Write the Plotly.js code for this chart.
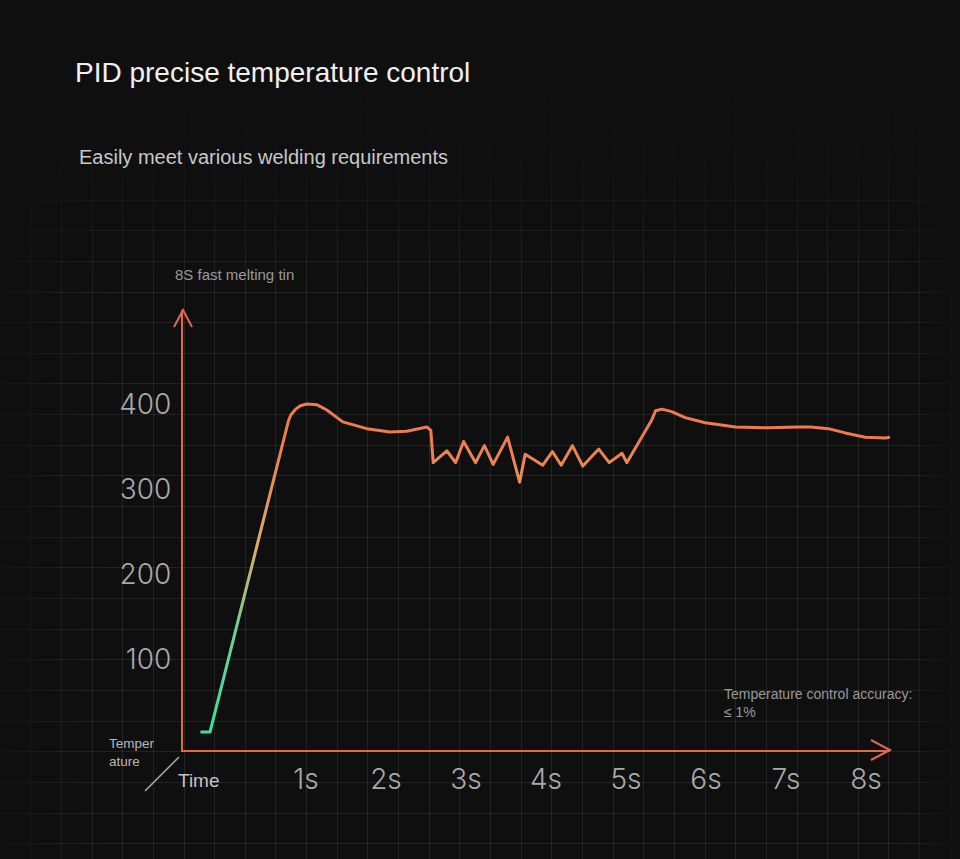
<!DOCTYPE html>
<html>
<head>
<meta charset="utf-8">
<script src="https://cdn.plot.ly/plotly-3.0.1.min.js"></script>
<style>
  html, body { margin: 0; padding: 0; background: #0f0f0f; }
  #chart { width: 960px; height: 859px; }
</style>
</head>
<body>
<div id="chart"></div>
<script>
// temperature curve (seconds, degrees)
const timeS = [-0.32, -0.2, 0.78, 0.81, 0.87, 0.93, 1.01, 1.14, 1.26, 1.46, 1.76, 2.05, 2.26, 2.51, 2.56, 2.59,
  2.76, 2.87, 2.97, 3.12, 3.23, 3.34, 3.52, 3.67, 3.74, 3.96, 4.08, 4.19, 4.33, 4.46, 4.66, 4.79, 4.95, 5.01,
  5.32, 5.37, 5.45, 5.57, 5.74, 5.99, 6.37, 6.78, 7.15, 7.31, 7.53, 7.74, 7.99, 8.24, 8.3];
const tempC = [14, 14, 380, 387, 394, 398, 400, 399, 393, 379, 371, 367, 368, 373, 369, 331,
  345, 331, 356, 331, 351, 329, 361, 308, 341, 328, 344, 328, 351, 327, 347, 331, 342, 331,
  381, 392, 394, 391, 384, 378, 373, 372, 373, 373, 371, 366, 361, 360, 361];

const tempTicks = [100, 200, 300, 400];
const timeTicks = [1, 2, 3, 4, 5, 6, 7, 8];
const timeLabels = timeTicks.map(s => s + 's');

const titleText = 'PID precise temperature control';
const subtitleText = 'Easily meet various welding requirements';
const yNote = '8S fast melting tin';
const cornerY = 'Temper<br>ature';
const cornerX = 'Time';
const accuracyNote = 'Temperature control accuracy:<br>≤ 1%';

const axisColor = '#e3674a';
const lineColor = '#ee7b4f';
const bg = '#0f0f0f';
const tickFont = {family: 'Inter, Lato, sans-serif', size: 28, color: '#a9a9a9', weight: 300};
const sans = 'Liberation Sans, Arial, sans-serif';

// fade the background grid towards the edges
const fadeSvg = "<svg xmlns='http://www.w3.org/2000/svg' width='960' height='859'>" +
  "<defs>" +
  "<linearGradient id='t' x1='0' y1='0' x2='0' y2='1'><stop offset='0' stop-color='" + bg + "' stop-opacity='1'/><stop offset='0.5' stop-color='" + bg + "' stop-opacity='0.8'/><stop offset='1' stop-color='" + bg + "' stop-opacity='0'/></linearGradient>" +
  "<linearGradient id='r' x1='0' y1='0' x2='1' y2='0'><stop offset='0' stop-color='" + bg + "' stop-opacity='0'/><stop offset='1' stop-color='" + bg + "' stop-opacity='0.85'/></linearGradient>" +
  "<linearGradient id='l' x1='0' y1='0' x2='1' y2='0'><stop offset='0' stop-color='" + bg + "' stop-opacity='0.7'/><stop offset='1' stop-color='" + bg + "' stop-opacity='0'/></linearGradient>" +
  "</defs>" +
  "<rect x='0' y='0' width='960' height='300' fill='url(#t)'/>" +
  "<rect x='895' y='0' width='65' height='859' fill='url(#r)'/>" +
  "<rect x='0' y='0' width='110' height='859' fill='url(#l)'/>" +
  "</svg>";

const data = [
  {x: [], y: [], type: 'scatter', xaxis: 'x', yaxis: 'y', hoverinfo: 'skip'},
  {
    x: timeS,
    y: tempC,
    type: 'scatter',
    mode: 'lines',
    xaxis: 'x2',
    yaxis: 'y2',
    line: {color: lineColor, width: 3},
    hoverinfo: 'skip'
  }
];

function px(x) { return x / 960; }
function py(y) { return 1 - y / 859; }

const layout = {
  width: 960,
  height: 859,
  margin: {l: 0, r: 0, t: 0, b: 0},
  paper_bgcolor: bg,
  plot_bgcolor: 'rgba(0,0,0,0)',
  showlegend: false,
  // page wide grid
  xaxis: {
    domain: [0, 1], range: [0, 960], tick0: 184, dtick: 30.65,
    showgrid: true, gridcolor: 'rgba(255,255,255,0.085)', gridwidth: 1,
    showticklabels: false, zeroline: false, ticks: '', fixedrange: true
  },
  yaxis: {
    domain: [0, 1], range: [859, 0], tick0: 292, dtick: 30.65,
    showgrid: true, gridcolor: 'rgba(255,255,255,0.085)', gridwidth: 1,
    showticklabels: false, zeroline: false, ticks: '', fixedrange: true
  },
  // the chart itself
  xaxis2: {
    anchor: 'y2', domain: [183 / 960, 890 / 960], range: [-0.5375, 8.3],
    tickvals: timeTicks, ticktext: timeLabels, tickfont: tickFont,
    showgrid: false, zeroline: false, ticks: '', ticklabelstandoff: 3,
    showline: true, linecolor: axisColor, linewidth: 2, fixedrange: true
  },
  yaxis2: {
    anchor: 'x2', domain: [109 / 859, 549 / 859], range: [-7.06, 510.6],
    tickvals: tempTicks, tickfont: tickFont,
    showgrid: false, zeroline: false, ticks: '', ticklabelstandoff: 4,
    showline: true, linecolor: axisColor, linewidth: 2, fixedrange: true
  },
  shapes: [
    {type: 'path', xref: 'x2 domain', yref: 'y2 domain', xsizemode: 'pixel', ysizemode: 'pixel',
      xanchor: 0, yanchor: 1, path: 'M-9,-17L0,0L9,-17', line: {color: axisColor, width: 2}, layer: 'above'},
    {type: 'path', xref: 'x2 domain', yref: 'y2 domain', xsizemode: 'pixel', ysizemode: 'pixel',
      xanchor: 1, yanchor: 0, path: 'M-19,10L0,0L-19,-10', line: {color: axisColor, width: 2}, layer: 'above'},
    {type: 'line', xref: 'paper', yref: 'paper', x0: px(145), y0: py(791), x1: px(179), y1: py(757),
      line: {color: '#a8a8a8', width: 1.5}, layer: 'above'}
  ],
  images: [{
    source: 'data:image/svg+xml;charset=utf-8,' + encodeURIComponent(fadeSvg),
    xref: 'paper', yref: 'paper', x: 0, y: 1, sizex: 1, sizey: 1,
    sizing: 'stretch', xanchor: 'left', yanchor: 'top', layer: 'above'
  }],
  annotations: [
    {text: titleText, xref: 'paper', yref: 'paper', x: px(73), y: py(72), xanchor: 'left', yanchor: 'middle',
      showarrow: false, font: {family: sans, size: 28, color: '#f0f0f0'}},
    {text: subtitleText, xref: 'paper', yref: 'paper', x: px(77), y: py(157), xanchor: 'left', yanchor: 'middle',
      showarrow: false, font: {family: sans, size: 20, color: '#c8c8c8'}},
    {text: yNote, xref: 'paper', yref: 'paper', x: px(173), y: py(275), xanchor: 'left', yanchor: 'middle',
      showarrow: false, font: {family: sans, size: 15, color: '#9a9a9a'}},
    {text: cornerY, xref: 'paper', yref: 'paper', x: px(107), y: py(752), xanchor: 'left', yanchor: 'middle',
      showarrow: false, align: 'left', font: {family: sans, size: 13.5, color: '#b8b8b8'}},
    {text: cornerX, xref: 'paper', yref: 'paper', x: px(176), y: py(780), xanchor: 'left', yanchor: 'middle',
      showarrow: false, font: {family: sans, size: 19, color: '#c4c4c4'}},
    {text: accuracyNote, xref: 'paper', yref: 'paper', x: px(722), y: py(703), xanchor: 'left', yanchor: 'middle',
      showarrow: false, align: 'left', font: {family: sans, size: 14, color: '#9a9a9a'}}
  ]
};

const config = {staticPlot: true, displayModeBar: false};

Plotly.newPlot('chart', data, layout, config).then(gd => {
  // teal -> orange colour along the heating ramp
  const ya = gd._fullLayout.yaxis2;
  const defs = gd.querySelector('.main-svg defs');
  const ns = 'http://www.w3.org/2000/svg';
  const grad = document.createElementNS(ns, 'linearGradient');
  grad.setAttribute('id', 'rampGrad');
  grad.setAttribute('gradientUnits', 'userSpaceOnUse');
  grad.setAttribute('x1', 0);
  grad.setAttribute('x2', 0);
  grad.setAttribute('y1', ya.l2p(40));
  grad.setAttribute('y2', ya.l2p(360));
  [[0, '#45dba3'], [0.3, '#74cf94'], [0.6, '#d7ae68'], [1, lineColor]].forEach(([o, c]) => {
    const s = document.createElementNS(ns, 'stop');
    s.setAttribute('offset', o);
    s.setAttribute('stop-color', c);
    grad.appendChild(s);
  });
  defs.appendChild(grad);
  gd.querySelectorAll('.subplot.x2y2 .scatterlayer .js-line').forEach(p => {
    p.style.stroke = 'url(#rampGrad)';
    p.style.strokeLinejoin = 'round';
  });
});
</script>
</body>
</html>
